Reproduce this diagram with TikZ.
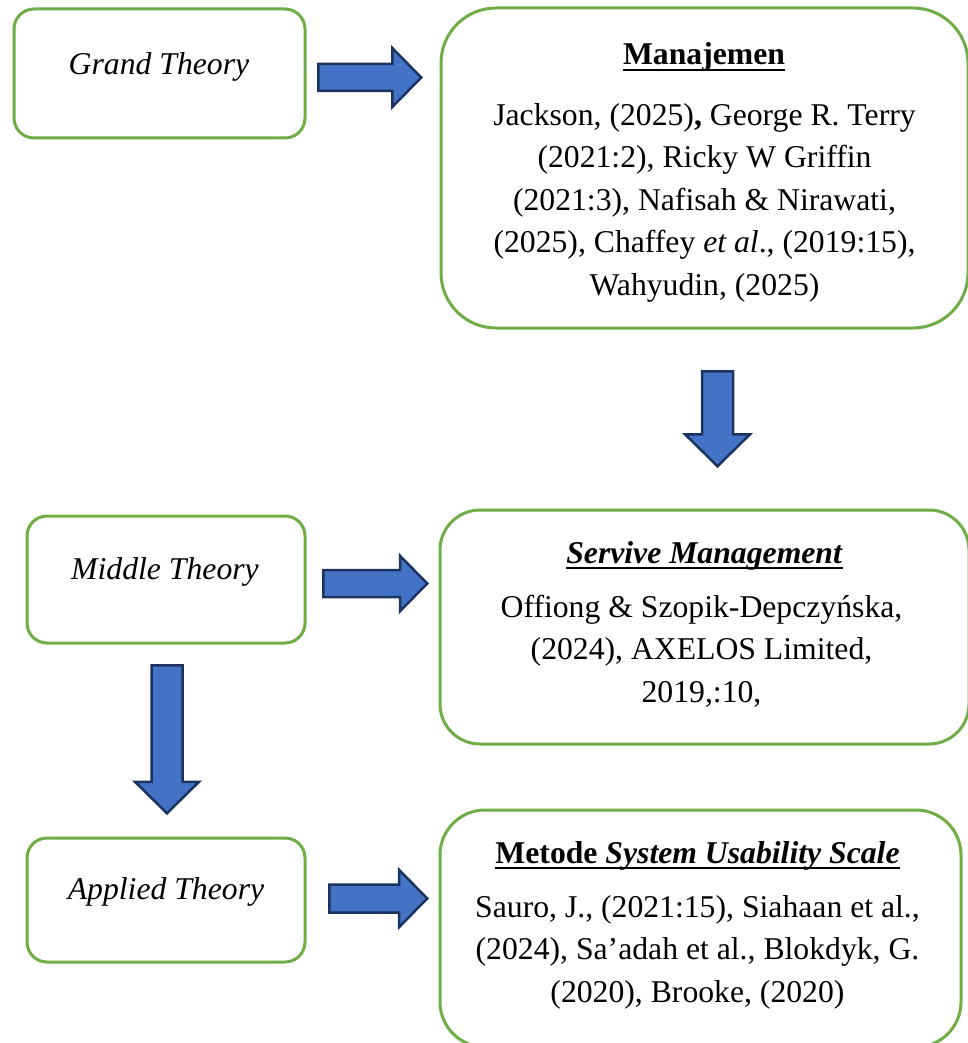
\documentclass[tikz,border=0pt]{standalone}
\usepackage{fontspec}
\setmainfont{Liberation Serif}
\usepackage{tikz}
\usetikzlibrary{calc,positioning,shapes.arrows}
\definecolor{boxgreen}{HTML}{70AD47}
\definecolor{arrowblue}{HTML}{4472C4}
\definecolor{arrowedge}{HTML}{1B3360}
\tikzstyle{theory}   = [draw=boxgreen, line width=3pt, inner sep=0pt]
\tikzstyle{bigarrow} = [single arrow, draw=arrowedge, fill=arrowblue, line width=2.5pt, inner xsep=0pt, single arrow tip angle=91, anchor=tail]
\tikzstyle{uline}    = [line width=2.6pt]

\begin{document}
\begin{tikzpicture}[x=1pt, y=-1pt,
			txt/.style={inner sep=0pt, anchor=base, font=\fontsize{31.7}{42.5}\selectfont},
			body/.style={txt, align=center},
			small/.style={theory, rounded corners=20pt},
			big/.style={theory, rounded corners=#1},
		]
		\useasboundingbox (0,0) rectangle (968,1043);
		\clip (0,0) rectangle (968,1043);

		\node[small, minimum width=291pt, minimum height=129pt] (grand) at (159.5,73.5) {};
		\node[small, minimum width=278pt, minimum height=127pt] (middle) at (166,579.5) {};
		\node[small, minimum width=278pt, minimum height=124pt] (applied) at (166,900) {};
		\node[big=55pt, minimum width=527pt, minimum height=320pt] (manaj) at (704.5,168) {};
		\node[big=40pt, minimum width=529pt, minimum height=234pt] (servive) at (704.5,627) {};
		\node[big=45pt, minimum width=521pt, minimum height=237pt] (metode) at (700.5,928.5) {};

		\node[txt] (grandtxt) at (159,75) {\textit{Grand Theory}};
		\node[txt] (middletxt) at (165,579) {\textit{Middle Theory}};
		\node[txt] (appliedtxt) at (166,899) {\textit{Applied Theory}};

		\node[txt] (manajhead) at (704,65) {\textbf{Manajemen}};
		\node[body] (manajbody) at (704.5,295) {Jackson, (2025)\textbf{,} George R. Terry\\(2021:2), Ricky W Griffin\\(2021:3), Nafisah \& Nirawati,\\(2025), Chaffey \textit{et al}., (2019:15),\\Wahyudin, (2025)};

		\node[txt] (servivehead) at (704.5,563) {\textbf{\textit{Servive Management}}};
		\node[body] (servivebody) at (701.5,702) {Offiong \& Szopik-Depczyńska,\\(2024), AXELOS Limited,\\2019,:10,};

		\node[txt] (metodehead) at (697.5,863) {\textbf{Metode \textit{System Usability Scale}}};
		\node[body] (metodebody) at (697.5,1002) {Sauro, J., (2021:15), Siahaan et al.,\\(2024), Sa’adah et al., Blokdyk, G.\\(2020), Brooke, (2020)};

		\foreach \h in {manajhead, servivehead, metodehead}
		\draw[uline] ([yshift=-5pt]\h.base west) -- ([yshift=-5pt]\h.base east);

		\node[bigarrow, minimum height=103pt, inner ysep=12.25pt, single arrow head extend=16pt] (toManaj) at (317,77.5) {};
		\node[bigarrow, minimum height=95pt, inner ysep=14.25pt, single arrow head extend=17pt, rotate=-90] (toServive) at (717.5,370) {};
		\node[bigarrow, minimum height=104pt, inner ysep=12.25pt, single arrow head extend=14pt] (midArrow) at (322,583.5) {};
		\node[bigarrow, minimum height=148pt, inner ysep=14.25pt, single arrow head extend=16.5pt, rotate=-90] (toApplied) at (167,664) {};
		\node[bigarrow, minimum height=98pt, inner ysep=12.75pt, single arrow head extend=14.5pt] (toMetode) at (328,898.5) {};
	\end{tikzpicture}
\end{document}
